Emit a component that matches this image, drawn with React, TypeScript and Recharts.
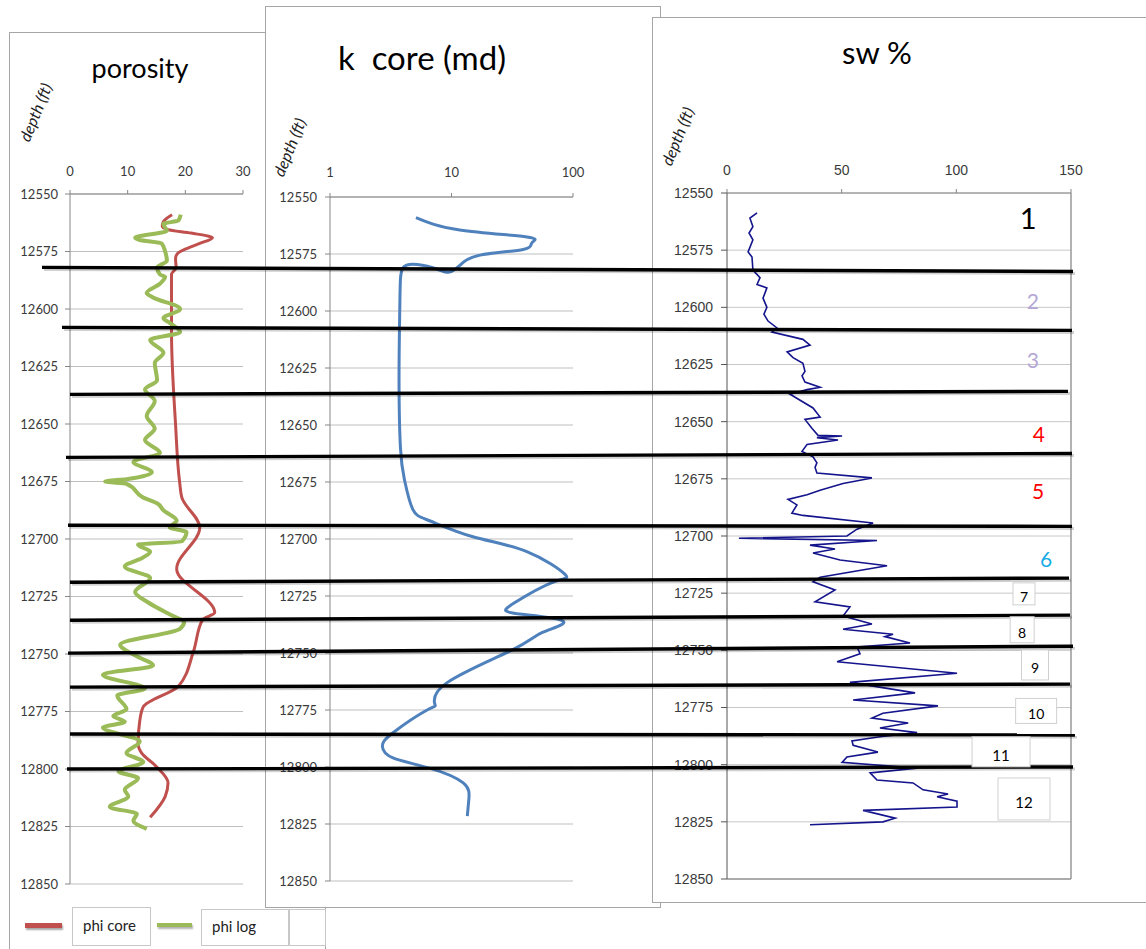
import React from 'react';
import { LineChart, Line, XAxis, YAxis, CartesianGrid, ReferenceLine, ReferenceDot } from 'recharts';

// ---------- data ----------
const depthTicks = [12550, 12575, 12600, 12625, 12650, 12675, 12700, 12725, 12750, 12775, 12800, 12825, 12850];
const porosityTicks = [0, 10, 20, 30];
const kTicks = [1, 10, 100];
const swTicks = [0, 50, 100, 150];

const phiCoreDepth = [12559, 12562, 12564, 12565.5, 12567, 12569, 12571.5, 12574, 12576, 12578, 12582, 12585, 12610, 12650, 12675, 12682, 12695, 12713, 12732, 12735, 12749, 12764, 12773, 12779, 12789, 12793, 12799, 12806, 12812, 12821];
const phiCoreValue = [17.7, 16.2, 16.0, 17.0, 21.0, 24.7, 22.5, 20.0, 18.6, 18.3, 18.4, 17.6, 17.6, 18.3, 19.0, 19.4, 22.5, 18.5, 25.1, 23.0, 21.4, 18.8, 12.7, 12.1, 11.8, 12.4, 15.0, 17.0, 16.5, 13.9];

const phiLogDepth = [12559, 12561.5, 12563, 12566, 12569, 12570, 12571.5, 12575, 12579, 12582, 12585, 12586, 12589, 12593, 12595, 12600, 12604, 12606, 12610, 12613.5, 12619, 12623.5, 12631, 12635, 12640, 12646.5, 12652, 12657, 12662.5, 12666.5, 12671, 12674, 12675, 12676, 12682, 12684.5, 12687.5, 12692, 12695, 12697, 12701, 12702.5, 12705.5, 12708, 12712, 12717, 12723, 12727.5, 12733.5, 12736, 12739, 12746, 12751, 12755, 12759, 12765, 12768, 12774, 12777, 12779.5, 12782, 12788, 12793, 12797, 12801, 12804, 12809, 12812, 12816.5, 12819.5, 12822.5, 12826];
const phiLogValue = [19.2, 18.8, 16.2, 16.8, 11.3, 12.1, 15.9, 16.5, 16.8, 15.1, 15.6, 16.5, 15.6, 13.3, 14.4, 19.1, 16.2, 17.3, 19.1, 13.9, 16.2, 14.7, 15.1, 13.0, 14.7, 13.3, 14.7, 13.0, 15.6, 11.0, 14.2, 9.8, 6.1, 9.8, 12.7, 15.1, 16.2, 18.5, 17.3, 20.2, 19.4, 11.8, 13.9, 12.7, 9.5, 13.9, 11.3, 13.5, 17.9, 19.8, 19.1, 8.7, 11.6, 14.4, 5.7, 13.0, 8.2, 9.8, 7.5, 9.5, 5.7, 12.1, 9.8, 12.7, 8.4, 11.8, 9.5, 10.1, 6.9, 11.6, 11.0, 13.3];

const kCoreDepth = [12559, 12564.5, 12567.5, 12570, 12573, 12575.5, 12580, 12583, 12581, 12579.5, 12581, 12586, 12600, 12630, 12660, 12674, 12687, 12692, 12699, 12705.5, 12715.5, 12719, 12728, 12731.5, 12733, 12736, 12741, 12748.5, 12763, 12772.5, 12775, 12785, 12791, 12796, 12800.5, 12807, 12814, 12821.5];
const kCoreValue = [5.1, 11.7, 41.7, 46, 38.9, 17.2, 11.7, 9.4, 7.0, 4.8, 4.0, 3.8, 3.75, 3.7, 3.8, 4.1, 4.8, 6.6, 15, 41.7, 86, 68, 33, 28, 38, 83, 56, 32, 9.2, 7.3, 6.3, 3.3, 2.7, 3.3, 6.6, 12.5, 13.9, 13.5];

const swDepth = [12558.7, 12561, 12564.7, 12567.5, 12570.5, 12575.8, 12578, 12583.7, 12587, 12590, 12591.5, 12596, 12600, 12603, 12606, 12609, 12610.8, 12614, 12616.5, 12619.5, 12622, 12624.5, 12628, 12630, 12632.7, 12635, 12636, 12638, 12644, 12648, 12649, 12653, 12656, 12656.3, 12657, 12658, 12660, 12663, 12665.4, 12668, 12670, 12672.5, 12674.6, 12677, 12680, 12682, 12684, 12686.4, 12690, 12691, 12694.3, 12697, 12700, 12701, 12702, 12704, 12705.7, 12707.4, 12710.5, 12713, 12718, 12720, 12723.6, 12728.8, 12731, 12735, 12738.5, 12740.8, 12743, 12744, 12746.8, 12748.5, 12751.5, 12755, 12760, 12764, 12768.6, 12771.7, 12774.3, 12777.5, 12779.6, 12781.8, 12784, 12786, 12787.8, 12789.6, 12791.5, 12794.5, 12796.6, 12799, 12801.5, 12803.6, 12806.7, 12808, 12811, 12812.8, 12814, 12816, 12818.5, 12820, 12823.4, 12825, 12826.3];
const swValue = [13.1, 10, 11.3, 9.6, 11.3, 9.2, 10.9, 11.3, 14.4, 13.1, 17.4, 15.7, 17.4, 16.1, 17.9, 21.8, 19.6, 33.1, 36.2, 26.2, 28.8, 33.1, 34, 32.7, 34, 40.6, 34.9, 27.5, 37.5, 40.6, 34, 37.1, 39.7, 50.2, 39.2, 48.4, 34.9, 32.7, 37.5, 39.2, 38.4, 39.2, 63.2, 50.6, 40.6, 34.9, 26.6, 30.5, 28.3, 33.1, 63.7, 56.7, 52.3, 5.2, 65.4, 36.2, 47.1, 37.5, 49.3, 69.8, 40.6, 37.5, 47.1, 38.4, 53.6, 50.6, 63.2, 50.6, 72.4, 68.9, 79.8, 56.7, 58, 48, 100.3, 53.6, 82, 55, 92, 68, 63.2, 79, 66.7, 82.9, 66.7, 54.5, 55, 65.8, 52.3, 50.2, 82.9, 62.4, 65.4, 81.1, 85.5, 96.4, 91.6, 100.3, 100.3, 59.3, 73.3, 68, 36.2];

// zone boundaries (depth at left / right end, across the whole figure)
const zoneDepthLeft = [12581.9, 12608.0, 12637.1, 12664.5, 12694.0, 12718.8, 12735.3, 12749.6, 12764.4, 12784.8, 12800.0];
const zoneDepthRight = [12583.7, 12609.3, 12635.8, 12662.8, 12694.5, 12717.0, 12733.1, 12746.6, 12763.1, 12785.2, 12799.1];
const zoneStartX = [42, 62, 70, 66, 68, 70, 70, 68, 70, 70, 67];
const zoneEndX = [1073, 1072, 1068, 1072, 1072, 1069, 1070, 1073, 1070, 1075, 1073];

// zone labels placed in the sw % track
const zoneLabelText = ['1', '2', '3', '4', '5', '6', '7', '8', '9', '10', '11', '12'];
const zoneLabelSw = [131.3, 133.4, 133.4, 136, 135.6, 139.1, 129.5, 128.7, 134.3, 134.8, 119.5, 129.5];
const zoneLabelDepth = [12560.5, 12596.8, 12623, 12655, 12680.3, 12710, 12725.3, 12741, 12756.4, 12776.5, 12794.4, 12815];

const zip = (ds: number[], vs: number[]) => ds.map((d, i) => ({ d, v: vs[i] }));
const phiCore = zip(phiCoreDepth, phiCoreValue);
const phiLog = zip(phiLogDepth, phiLogValue);
const kCore = zip(kCoreDepth, kCoreValue);
const sw = zip(swDepth, swValue);
const zones = zoneDepthLeft.map((d, i) => [
  { d, v: zoneStartX[i] },
  { d: zoneDepthRight[i], v: zoneEndX[i] },
]);

// ---------- styles ----------
const labelStyle: React.CSSProperties = { position: 'absolute', whiteSpace: 'pre', color: '#000' };
const tickCal = { fill: '#3a3a3a', fontSize: 13, fontFamily: 'Lato' };
const tickArial = { fill: '#3a3a3a', fontSize: 14, fontFamily: 'Liberation Sans' };
const panel = (l: number, t: number, w: number, h: number, z: number): React.CSSProperties => ({
  position: 'absolute', left: l, top: t, width: w, height: h, background: '#fff',
  boxShadow: 'inset 0 0 0 1px #a6a6a6', zIndex: z,
});
const depthLabel = (cx: number, cy: number): React.CSSProperties => ({
  position: 'absolute', left: cx, top: cy, transform: 'translate(-50%,-50%) rotate(-68deg)',
  fontFamily: 'Lato', fontStyle: 'italic', fontSize: 16, color: '#222', whiteSpace: 'nowrap',
});

const labelColors = ['#000', '#b4a7d6', '#b4a7d6', '#ff0000', '#ff0000', '#1aace6', '#000', '#000', '#000', '#000', '#000', '#000'];
const labelSizes = [29, 21, 21, 21, 21, 21, 14, 14, 14, 14, 15, 15];
const labelBoxW = [0, 0, 0, 0, 0, 0, 22, 24, 27, 41, 58, 52];
const labelBoxH = [0, 0, 0, 0, 0, 0, 22, 26, 30, 25, 30, 42];

const ZoneLabel = (i: number) => (props: any) => {
  const { cx, cy } = props;
  const w = labelBoxW[i];
  const h = labelBoxH[i];
  return (
    <g>
      {w > 0 && (
        <rect x={cx - w / 2} y={cy - h / 2} width={w} height={h} fill="#fff" stroke="#d0d0d0" strokeWidth={1} />
      )}
      <text x={cx} y={cy + (w > 0 ? 3 : 0)} textAnchor="middle" dominantBaseline="central" fill={labelColors[i]}
        fontSize={labelSizes[i]} fontFamily="Lato">{zoneLabelText[i]}</text>
    </g>
  );
};

export default function App() {
  return (
    <div style={{ position: 'absolute', left: 0, top: 0, width: 1146, height: 949, overflow: 'hidden', background: '#fff' }}>
      {/* porosity panel */}
      <div style={panel(9, 32, 317, 940, 1)}>
        <div style={{ ...labelStyle, left: 131, top: 19, transform: 'translateX(-50%)', fontFamily: 'Lato', fontSize: 27 }}>porosity</div>
        <div style={depthLabel(26, 80)}>depth (ft)</div>
        <div style={{ position: 'absolute', left: 0, top: 0 }}>
          <LineChart width={317} height={917} layout="vertical" margin={{ top: 132, right: 83, bottom: 65, left: 6 }}>
            <CartesianGrid vertical={false} stroke="#bfbfbf" />
            <XAxis type="number" orientation="top" domain={[0, 30]} ticks={porosityTicks} height={30}
              tick={tickCal} tickSize={4} tickMargin={14} stroke="#868686" allowDataOverflow />
            <YAxis type="number" dataKey="d" domain={[12550, 12850]} ticks={depthTicks} width={55}
              tick={tickCal} tickSize={5} tickMargin={7} stroke="#868686" allowDataOverflow interval={0} />
            <Line data={phiCore} dataKey="v" type="monotone" stroke="#c0504d" strokeWidth={3} dot={false} isAnimationActive={false} />
            <Line data={phiLog} dataKey="v" type="monotone" stroke="#9bbb59" strokeWidth={4} dot={false} isAnimationActive={false} />
          </LineChart>
        </div>
        {/* legend */}
        <div style={{ position: 'absolute', left: 16, top: 891, width: 37, height: 5, background: '#c0504d', boxShadow: '1px 2px 2px rgba(0,0,0,0.35)' }} />
        <div style={{ position: 'absolute', left: 63, top: 875, width: 79, height: 39, boxShadow: 'inset 0 0 0 1px #c8c8c8' }} />
        <div style={{ ...labelStyle, left: 74, top: 884, fontFamily: 'Lato', fontSize: 15, color: '#222' }}>phi core</div>
        <div style={{ position: 'absolute', left: 148, top: 891, width: 35, height: 4, background: '#9bbb59', boxShadow: '1px 2px 2px rgba(0,0,0,0.3)' }} />
        <div style={{ position: 'absolute', left: 192, top: 877, width: 88, height: 37, boxShadow: 'inset 0 0 0 1px #c8c8c8' }} />
        <div style={{ ...labelStyle, left: 203, top: 885, fontFamily: 'Lato', fontSize: 15, color: '#222' }}>phi log</div>
        <div style={{ position: 'absolute', left: 280, top: 877, width: 37, height: 37, boxShadow: 'inset 0 0 0 1px #c8c8c8' }} />
      </div>

      {/* k core panel */}
      <div style={panel(265, 6, 396, 902, 2)}>
        <div style={{ ...labelStyle, left: 157, top: 31, transform: 'translateX(-50%)', fontFamily: 'Lato', fontSize: 33 }}>k  core (md)</div>
        <div style={depthLabel(24, 141)}>depth (ft)</div>
        <div style={{ position: 'absolute', left: 0, top: 0 }}>
          <LineChart width={396} height={902} layout="vertical" margin={{ top: 161, right: 88, bottom: 27, left: 10 }}>
            <CartesianGrid vertical={false} stroke="#bfbfbf" />
            <XAxis type="number" orientation="top" scale="log" domain={[1, 100]} ticks={kTicks} height={30}
              tick={tickCal} tickSize={4} tickMargin={16} stroke="#868686" allowDataOverflow />
            <YAxis type="number" dataKey="d" domain={[12550, 12850]} ticks={depthTicks} width={55}
              tick={tickCal} tickSize={5} tickMargin={8} stroke="#868686" allowDataOverflow interval={0} />
            <Line data={kCore} dataKey="v" type="natural" stroke="#4f81bd" strokeWidth={3} dot={false} isAnimationActive={false} />
          </LineChart>
        </div>
      </div>

      {/* sw panel */}
      <div style={panel(652, 17, 520, 886, 3)}>
        <div style={{ ...labelStyle, left: 225, top: 16, transform: 'translateX(-50%)', fontFamily: 'Lato', fontSize: 31 }}>sw %</div>
        <div style={depthLabel(25, 119)}>depth (ft)</div>
        <div style={{ position: 'absolute', left: 0, top: 0 }}>
          <LineChart width={494} height={886} layout="vertical" margin={{ top: 146, right: 75, bottom: 24, left: 15 }}>
            <CartesianGrid vertical={false} stroke="#c8c8c8" />
            <XAxis type="number" orientation="top" domain={[0, 150]} ticks={swTicks} height={30}
              tick={tickArial} tickSize={4} tickMargin={14} stroke="#868686" allowDataOverflow />
            <YAxis type="number" dataKey="d" domain={[12550, 12850]} ticks={depthTicks} width={60}
              tick={tickArial} tickSize={6} tickMargin={8} stroke="#555" allowDataOverflow interval={0} />
            <ReferenceLine x={150} stroke="#999" strokeWidth={1.5} />
            <ReferenceLine y={12850} stroke="#999" strokeWidth={1.5} />
            <Line data={sw} dataKey="v" type="linear" stroke="#14148c" strokeWidth={1.6} dot={false} isAnimationActive={false} />
          </LineChart>
        </div>
      </div>

      {/* zone boundary lines across all tracks */}
      <div style={{ position: 'absolute', left: 0, top: 0, zIndex: 4, pointerEvents: 'none' }}>
        <LineChart width={1146} height={949} layout="vertical" margin={{ top: 194, right: 0, bottom: 65, left: 0 }}>
          <XAxis type="number" hide domain={[0, 1146]} allowDataOverflow />
          <YAxis type="number" dataKey="d" hide domain={[12550, 12850]} allowDataOverflow />
          {zones.map((z, i) => (
            <Line key={'s' + i} data={z.map(p => ({ d: p.d + 0.9, v: p.v + 2 }))} dataKey="v" type="linear" stroke="rgba(0,0,0,0.18)" strokeWidth={3} dot={false} isAnimationActive={false} />
          ))}
          {zones.map((z, i) => (
            <Line key={i} data={z} dataKey="v" type="linear" stroke="#000" strokeWidth={3.4} dot={false} isAnimationActive={false} />
          ))}
        </LineChart>
      </div>

      {/* zone labels */}
      <div style={{ position: 'absolute', left: 652, top: 17, zIndex: 5, pointerEvents: 'none' }}>
        <LineChart width={494} height={886} layout="vertical" margin={{ top: 176, right: 75, bottom: 24, left: 75 }}>
          <XAxis type="number" hide domain={[0, 150]} allowDataOverflow />
          <YAxis type="number" dataKey="d" hide domain={[12550, 12850]} allowDataOverflow />
          {zoneLabelText.map((t, i) => (
            <ReferenceDot key={t} x={zoneLabelSw[i]} y={zoneLabelDepth[i]} r={0} shape={ZoneLabel(i)} ifOverflow="visible" />
          ))}
        </LineChart>
      </div>
    </div>
  );
}
